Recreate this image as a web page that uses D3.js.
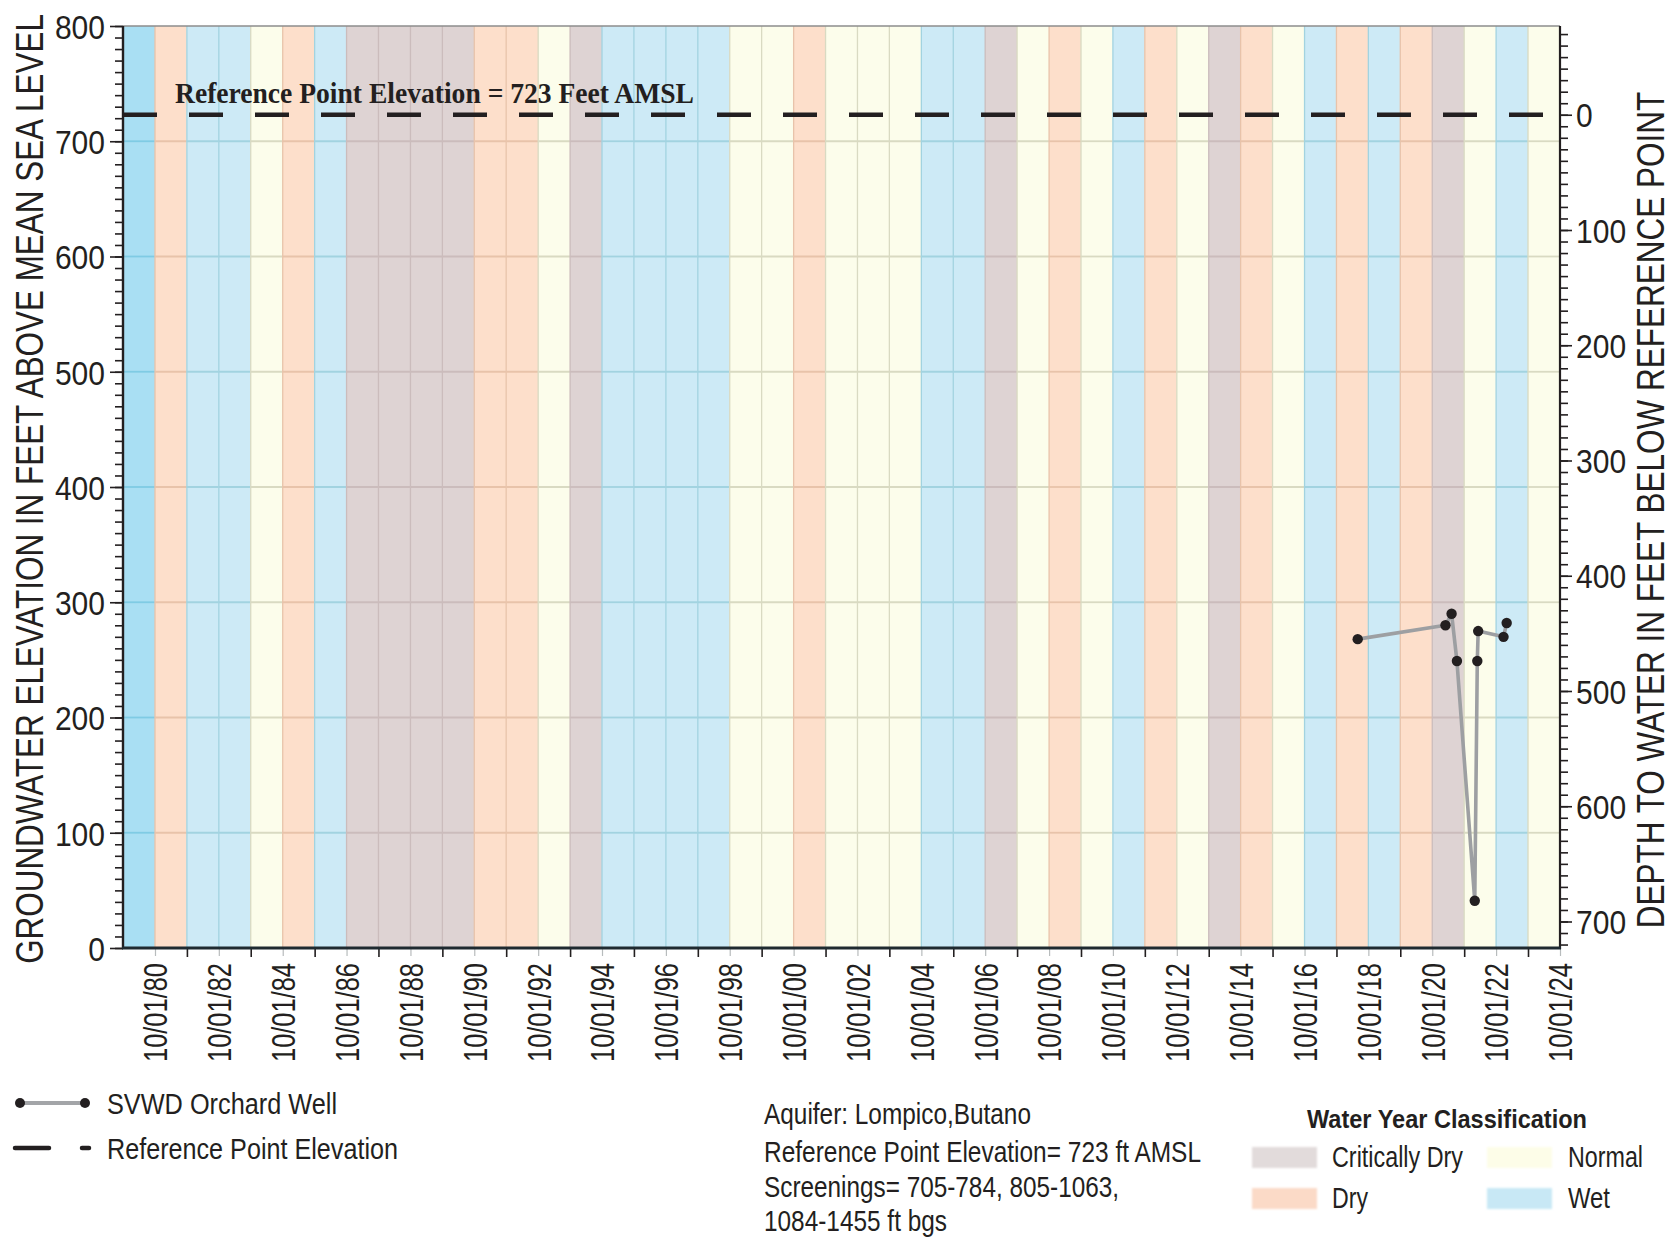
<!DOCTYPE html>
<html>
<head>
<meta charset="utf-8">
<script src="https://cdn.jsdelivr.net/npm/d3@7/dist/d3.min.js"></script>
<style>
  html, body { margin: 0; padding: 0; background: #fff; }
  svg { display: block; }
</style>
</head>
<body>
<svg id="chart" width="1677" height="1238"></svg>
<script>
// ---- Data ---------------------------------------------------------------
// Water years (Oct 1 of previous year to Sep 30) and their classification
const waterYears = d3.range(1980, 2025);
const yearClass = [
  "Wet+", "Dry", "Wet", "Wet", "Normal", "Dry", "Wet",
  "Critically Dry", "Critically Dry", "Critically Dry", "Critically Dry",
  "Dry", "Dry", "Normal", "Critically Dry",
  "Wet", "Wet", "Wet", "Wet",
  "Normal", "Normal", "Dry", "Normal", "Normal", "Normal",
  "Wet", "Wet", "Critically Dry", "Normal", "Dry", "Normal",
  "Wet", "Dry", "Normal", "Critically Dry", "Dry", "Normal",
  "Wet", "Dry", "Wet", "Dry", "Critically Dry", "Normal", "Wet", "Normal"
];

// SVWD Orchard Well groundwater elevations (ft AMSL)
const obsDates = ["2018-06-01", "2021-03-01", "2021-05-10", "2021-07-10",
                  "2022-01-30", "2022-02-28", "2022-03-10", "2022-12-25", "2023-01-30"];
const obsElev  = [268, 280, 290, 249, 41, 249, 275, 270, 282];

const refElevation = 723;

const elevTicks  = [0, 100, 200, 300, 400, 500, 600, 700, 800];
const depthTicks = [0, 100, 200, 300, 400, 500, 600, 700];
const labelYears = d3.range(1980, 2025, 2);   // 10/01/80 ... 10/01/24
const tickYears  = d3.range(1981, 2024, 2);

const legendClasses = ["Critically Dry", "Normal", "Dry", "Wet"];
const infoLines = [
  "Aquifer: Lompico,Butano",
  "Reference Point Elevation= 723 ft AMSL",
  "Screenings= 705-784, 805-1063,",
  "1084-1455 ft bgs"
];

// ---- Styles -------------------------------------------------------------
const fillColor = {
  "Critically Dry": "#ded3d3",
  "Dry": "#fddfcb",
  "Normal": "#fcfdeb",
  "Wet": "#cdeaf6",
  "Wet+": "#a9dff3"
};
const gridColor = {
  "Critically Dry": "#cbbcbc",
  "Dry": "#e8c3aa",
  "Normal": "#d9dac2",
  "Wet": "#a2d3e0",
  "Wet+": "#7fcbe4"
};
const legendFill = {
  "Critically Dry": "#e2dbdb",
  "Dry": "#fbdac7",
  "Normal": "#fdfde8",
  "Wet": "#c8e8f5"
};
const INK = "#231f20";
const SANS = "'Liberation Sans Narrow','Arial Narrow','Liberation Sans',Arial,sans-serif";
const SERIF = "'Liberation Serif','DejaVu Serif',serif";

// ---- Layout -------------------------------------------------------------
const X0 = 123, X1 = 1560, Y0 = 26, Y1 = 948;
const svg = d3.select("#chart");

const x = d3.scaleUtc()
  .domain([new Date(Date.UTC(1979, 9, 1)), new Date(Date.UTC(2024, 9, 1))])
  .range([X0, X1]);
const y = d3.scaleLinear().domain([0, 800]).range([Y1, Y0]);
const yDepth = d3.scaleLinear()
  .domain([refElevation - 0, refElevation - 800]).range([Y1, Y0]);

const oct1 = yr => new Date(Date.UTC(yr, 9, 1));

// ---- Water-year bands ---------------------------------------------------
const bands = waterYears.map((wy, i) => ({
  start: oct1(wy - 1), end: oct1(wy), cls: yearClass[i]
}));

const gBands = svg.append("g");
gBands.selectAll("rect").data(bands).join("rect")
  .attr("x", d => x(d.start))
  .attr("y", Y0)
  .attr("width", d => x(d.end) - x(d.start))
  .attr("height", Y1 - Y0)
  .attr("fill", d => fillColor[d.cls]);

// horizontal grid lines, tinted per band
const gridVals = elevTicks.filter(v => v > 0 && v < 800);
const gGrid = svg.append("g");
bands.forEach(b => {
  gGrid.selectAll(null).data(gridVals).join("line")
    .attr("x1", x(b.start)).attr("x2", x(b.end))
    .attr("y1", v => y(v)).attr("y2", v => y(v))
    .attr("stroke", gridColor[b.cls]).attr("stroke-width", 1.8);
});
// band boundary lines
gGrid.selectAll("line.bnd").data(bands.slice(1)).join("line")
  .attr("class", "bnd")
  .attr("x1", d => x(d.start)).attr("x2", d => x(d.start))
  .attr("y1", Y0).attr("y2", Y1)
  .attr("stroke", d => gridColor[d.cls]).attr("stroke-width", 1.3);

// ---- Reference point elevation -----------------------------------------
svg.append("line")
  .attr("x1", X0).attr("x2", X1)
  .attr("y1", y(refElevation)).attr("y2", y(refElevation))
  .attr("stroke", INK).attr("stroke-width", 4.5)
  .attr("stroke-dasharray", "34,32");

svg.append("text")
  .attr("x", 175).attr("y", 103)
  .attr("font-family", SERIF).attr("font-weight", "bold")
  .attr("font-size", 30).attr("fill", INK)
  .attr("textLength", 519).attr("lengthAdjust", "spacingAndGlyphs")
  .text("Reference Point Elevation = 723 Feet AMSL");

// ---- Well hydrograph ----------------------------------------------------
const obs = obsDates.map((d, i) => ({ date: new Date(d + "T00:00:00Z"), v: obsElev[i] }));
svg.append("path")
  .datum(obs)
  .attr("fill", "none").attr("stroke", "#9d9fa2").attr("stroke-width", 3.6)
  .attr("stroke-linejoin", "round")
  .attr("d", d3.line().x(d => x(d.date)).y(d => y(d.v)));
svg.append("g").selectAll("circle").data(obs).join("circle")
  .attr("cx", d => x(d.date)).attr("cy", d => y(d.v)).attr("r", 5.2)
  .attr("fill", INK);

// ---- Axes ---------------------------------------------------------------
function styleAxis(g) {
  g.select(".domain").remove();
  g.selectAll(".tick line").attr("stroke", INK).attr("stroke-width", 1.6);
  g.selectAll(".tick text").attr("fill", INK).attr("font-family", SANS);
}

// left: minor + major ticks
svg.append("g").attr("transform", `translate(${X0},0)`)
  .call(d3.axisLeft(y).tickValues(d3.range(0, 801, 10)).tickSize(8).tickFormat(""))
  .call(styleAxis);
const gLeft = svg.append("g").attr("transform", `translate(${X0},0)`)
  .call(d3.axisLeft(y).tickValues(elevTicks).tickSize(13).tickPadding(5))
  .call(styleAxis);
gLeft.selectAll(".tick text")
  .attr("font-size", 34)
  .attr("dy", "0.36em")
  .attr("textLength", d => String(d).length * 16.7)
  .attr("lengthAdjust", "spacingAndGlyphs");

// right: depth below reference point
svg.append("g").attr("transform", `translate(${X1},0)`)
  .call(d3.axisRight(yDepth).tickValues(d3.range(-70, 721, 10)).tickSize(8).tickFormat(""))
  .call(styleAxis);
const gRight = svg.append("g").attr("transform", `translate(${X1},0)`)
  .call(d3.axisRight(yDepth).tickValues(depthTicks).tickSize(12).tickPadding(4))
  .call(styleAxis);
gRight.selectAll(".tick text")
  .attr("font-size", 34)
  .attr("dy", "0.36em")
  .attr("textLength", d => String(d).length * 16.7)
  .attr("lengthAdjust", "spacingAndGlyphs");

// bottom: black ticks at odd years, light ticks + labels at even years
svg.append("g").attr("transform", `translate(0,${Y1})`)
  .call(d3.axisBottom(x).tickValues(tickYears.map(oct1)).tickSize(9).tickFormat(""))
  .call(styleAxis);
const gBottom = svg.append("g").attr("transform", `translate(0,${Y1})`)
  .call(d3.axisBottom(x).tickValues(labelYears.map(oct1)).tickSize(8)
    .tickFormat(d3.utcFormat("%m/%d/%y")))
  .call(styleAxis);
gBottom.selectAll(".tick line").attr("stroke", "#b8bcbd").attr("stroke-width", 1.2);
gBottom.selectAll(".tick text")
  .attr("transform", "rotate(-90)")
  .attr("text-anchor", "end")
  .attr("x", -15).attr("y", 0).attr("dy", "0.36em")
  .attr("font-size", 33)
  .attr("textLength", 99).attr("lengthAdjust", "spacingAndGlyphs");

// frame
svg.append("line").attr("x1", X0).attr("x2", X1).attr("y1", Y0).attr("y2", Y0)
  .attr("stroke", "#8c8c8c").attr("stroke-width", 1.6);
svg.append("line").attr("x1", X0).attr("x2", X0).attr("y1", Y0).attr("y2", Y1 + 1)
  .attr("stroke", INK).attr("stroke-width", 2.4);
svg.append("line").attr("x1", X1).attr("x2", X1).attr("y1", Y0).attr("y2", Y1 + 1)
  .attr("stroke", INK).attr("stroke-width", 2.2);
svg.append("line").attr("x1", X0 - 1).attr("x2", X1 + 1).attr("y1", Y1).attr("y2", Y1)
  .attr("stroke", "#1f2a30").attr("stroke-width", 3);

// axis titles: condensed by a horizontal scale so the box matches the drawn width
function verticalTitle(cx, cy, size, length, label) {
  const t = svg.append("text")
    .attr("text-anchor", "middle")
    .attr("font-family", SANS).attr("font-size", size).attr("fill", INK)
    .text(label);
  const natural = t.node().getComputedTextLength();
  const s = length / natural;
  t.attr("transform", `translate(${cx},${cy}) rotate(-90) scale(${s},1)`);
  return t;
}
verticalTitle(43, 489, 39, 950, "GROUNDWATER ELEVATION IN FEET ABOVE MEAN SEA LEVEL");
verticalTitle(1664, 510, 38, 837, "DEPTH TO WATER IN FEET BELOW REFERENCE POINT");

// ---- Series legend ------------------------------------------------------
const gLeg = svg.append("g");
gLeg.append("line").attr("x1", 20).attr("x2", 85).attr("y1", 1103).attr("y2", 1103)
  .attr("stroke", "#a3a5a8").attr("stroke-width", 4);
gLeg.selectAll("circle").data([20, 85]).join("circle")
  .attr("cx", d => d).attr("cy", 1103).attr("r", 5).attr("fill", INK);
gLeg.append("text").attr("x", 107).attr("y", 1114)
  .attr("font-family", SANS).attr("font-size", 30).attr("fill", INK)
  .attr("textLength", 230).attr("lengthAdjust", "spacingAndGlyphs")
  .text("SVWD Orchard Well");
gLeg.append("line").attr("x1", 15).attr("x2", 49).attr("y1", 1148).attr("y2", 1148)
  .attr("stroke", INK).attr("stroke-width", 4.5).attr("stroke-linecap", "round");
gLeg.append("line").attr("x1", 82).attr("x2", 89).attr("y1", 1148).attr("y2", 1148)
  .attr("stroke", INK).attr("stroke-width", 4.5).attr("stroke-linecap", "round");
gLeg.append("text").attr("x", 107).attr("y", 1159)
  .attr("font-family", SANS).attr("font-size", 30).attr("fill", INK)
  .attr("textLength", 291).attr("lengthAdjust", "spacingAndGlyphs")
  .text("Reference Point Elevation");

// ---- Well information ---------------------------------------------------
const infoWidths = [267, 437, 355, 183];
const infoBase = [1124, 1162, 1197, 1231];
svg.append("g").selectAll("text").data(infoLines).join("text")
  .attr("x", 764).attr("y", (d, i) => infoBase[i])
  .attr("font-family", SANS).attr("font-size", 29).attr("fill", INK)
  .attr("textLength", (d, i) => infoWidths[i]).attr("lengthAdjust", "spacingAndGlyphs")
  .text(d => d);

// ---- Water year classification legend ----------------------------------
const defs = svg.append("defs");
defs.append("filter").attr("id", "soft")
  .attr("x", "-20%").attr("y", "-40%").attr("width", "140%").attr("height", "180%")
  .append("feGaussianBlur").attr("stdDeviation", 1.2);

const gWy = svg.append("g");
gWy.append("text").attr("x", 1307).attr("y", 1128)
  .attr("font-family", SANS).attr("font-weight", "bold")
  .attr("font-size", 25).attr("fill", INK)
  .attr("textLength", 280).attr("lengthAdjust", "spacingAndGlyphs")
  .text("Water Year Classification");

const legPos = [
  { sx: 1252, tx: 1332, row: 0, w: 131 },
  { sx: 1487, tx: 1568, row: 0, w: 75 },
  { sx: 1252, tx: 1332, row: 1, w: 36 },
  { sx: 1487, tx: 1568, row: 1, w: 42 }
];
const rowTop = [1147, 1188];
const rowBase = [1167, 1208];
legendClasses.forEach((c, i) => {
  const p = legPos[i];
  gWy.append("rect")
    .attr("x", p.sx).attr("y", rowTop[p.row]).attr("width", 65).attr("height", 21)
    .attr("fill", legendFill[c]).attr("filter", "url(#soft)");
  gWy.append("text").attr("x", p.tx).attr("y", rowBase[p.row])
    .attr("font-family", SANS).attr("font-size", 29).attr("fill", INK)
    .attr("textLength", p.w).attr("lengthAdjust", "spacingAndGlyphs")
    .text(c);
});
</script>
</body>
</html>
